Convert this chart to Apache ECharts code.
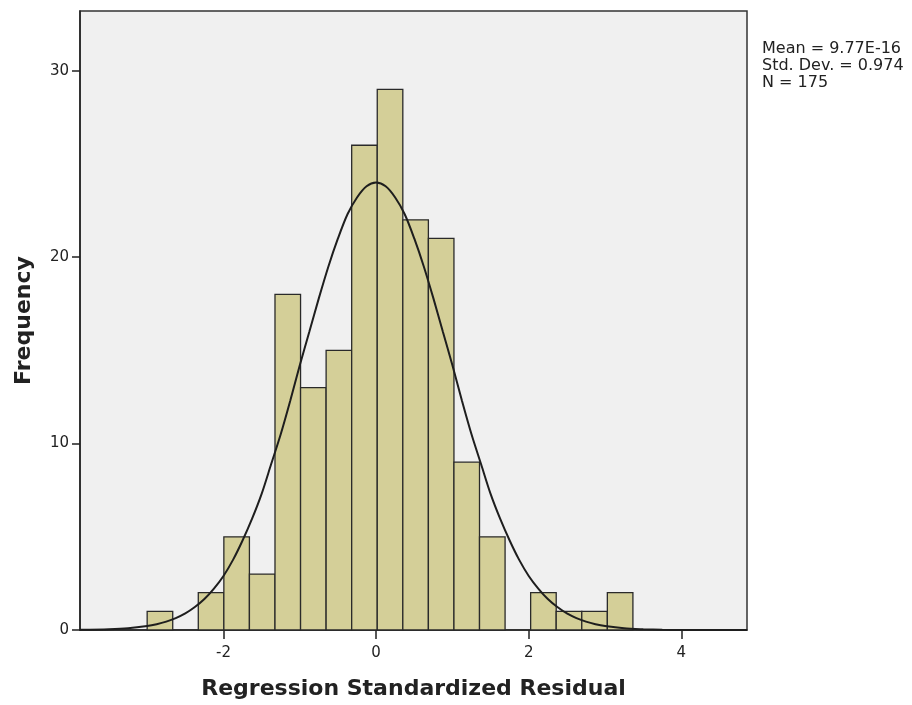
<!DOCTYPE html>
<html>
<head>
<meta charset="utf-8">
<script src="https://cdn.jsdelivr.net/npm/echarts@6/dist/echarts.min.js"></script>
<style>
html,body{margin:0;padding:0;background:#fff;}
#chart{width:912px;height:705px;}
</style>
</head>
<body>
<div id="chart"></div>
<script>
// Histogram bin edges (Regression Standardized Residual)
const binEdges = [-3.0, -2.665, -2.33, -1.995, -1.66, -1.325, -0.99, -0.655, -0.32, 0.015, 0.35, 0.685, 1.02, 1.355, 1.69, 2.025, 2.36, 2.695, 3.03, 3.365];
// Frequency per bin
const counts = [1, 0, 2, 5, 3, 18, 13, 15, 26, 29, 22, 21, 9, 5, 0, 2, 1, 1, 2];
// Normal curve points
const curveX = [-3.88, -3.5, -3.25, -3.0, -2.875, -2.75, -2.625, -2.5, -2.375, -2.25, -2.125, -2.0, -1.875, -1.75, -1.625, -1.5, -1.375, -1.25, -1.125, -1.0, -0.875, -0.75, -0.625, -0.5, -0.375, -0.25, -0.125, 0.0, 0.125, 0.25, 0.375, 0.5, 0.625, 0.75, 0.875, 1.0, 1.125, 1.25, 1.375, 1.5, 1.625, 1.75, 1.875, 2.0, 2.125, 2.25, 2.375, 2.5, 2.625, 2.75, 2.875, 3.0, 3.25, 3.5, 3.75, 4.0, 4.5, 4.86];
const curveY = [0.01, 0.04, 0.09, 0.21, 0.31, 0.45, 0.64, 0.89, 1.23, 1.66, 2.22, 2.9, 3.76, 4.8, 5.97, 7.3, 8.9, 10.5, 12.3, 14.2, 16.0, 17.8, 19.5, 21.0, 22.3, 23.2, 23.8, 24.0, 23.8, 23.2, 22.3, 21.0, 19.5, 17.8, 16.0, 14.2, 12.3, 10.5, 8.9, 7.3, 5.97, 4.8, 3.76, 2.9, 2.22, 1.66, 1.23, 0.89, 0.64, 0.45, 0.31, 0.21, 0.09, 0.04, 0.01, 0.0, 0.0, 0.0];
// Tick labels
const xTicks = [-2, 0, 2, 4];
const yTicks = [0, 10, 20, 30];
const statsLines = ['Mean = 9.77E-16', 'Std. Dev. = 0.974', 'N = 175'];

const barData = counts.map((c, i) => [binEdges[i], binEdges[i + 1], c]).filter(d => d[2] > 0);
const lineData = curveX.map((x, i) => [x, curveY[i]]);

const chart = echarts.init(document.getElementById('chart'), null, {renderer: 'canvas'});
const font = 'DejaVu Sans';
chart.setOption({
  animation: false,
  backgroundColor: '#ffffff',
  grid: {
    left: 80, right: 165, top: 11, bottom: 74,
    show: true, backgroundColor: '#f0f0f0', borderColor: '#333333', borderWidth: 1.5
  },
  xAxis: {
    type: 'value', min: -3.88, max: 4.86,
    splitLine: {show: false},
    axisLine: {show: true, onZero: false, lineStyle: {color: '#222', width: 1.5}},
    axisTick: {show: true, customValues: xTicks, length: 9, lineStyle: {color: '#222', width: 1.5}},
    axisLabel: {customValues: xTicks, color: '#222', fontFamily: font, fontSize: 15, margin: 16,
      formatter: v => (v < 0 ? '-' + Math.abs(v) : String(v))},
    name: 'Regression Standardized Residual', nameLocation: 'middle', nameGap: 48,
    nameTextStyle: {fontFamily: font, fontWeight: 'bold', fontSize: 22, color: '#222'}
  },
  yAxis: {
    type: 'value', min: 0, max: 33.2,
    splitLine: {show: false},
    axisLine: {show: true, onZero: false, lineStyle: {color: '#222', width: 1.5}},
    axisTick: {show: true, customValues: yTicks, length: 8, lineStyle: {color: '#222', width: 1.5}},
    axisLabel: {customValues: yTicks, color: '#222', fontFamily: font, fontSize: 15, margin: 11},
    name: 'Frequency', nameLocation: 'middle', nameGap: 45,
    nameTextStyle: {fontFamily: font, fontWeight: 'bold', fontSize: 22, color: '#222'}
  },
  graphic: [{
    type: 'text', left: 762, top: 40,
    style: {text: statsLines.join('\n'), fontFamily: font, fontSize: 16, lineHeight: 17, fill: '#222'}
  }],
  series: [{
    type: 'custom',
    data: barData,
    encode: {x: [0, 1], y: 2},
    renderItem: function (params, api) {
      const p0 = api.coord([api.value(0), api.value(2)]);
      const p1 = api.coord([api.value(1), 0]);
      return {
        type: 'rect',
        shape: {x: p0[0], y: p0[1], width: p1[0] - p0[0], height: p1[1] - p0[1]},
        style: {fill: '#d4cf98', stroke: '#2a2a2a', lineWidth: 1.3}
      };
    },
    z: 2
  }, {
    type: 'line',
    data: lineData,
    smooth: 0.3,
    showSymbol: false,
    lineStyle: {color: '#1e1e1e', width: 2},
    z: 3
  }]
});
</script>
</body>
</html>
